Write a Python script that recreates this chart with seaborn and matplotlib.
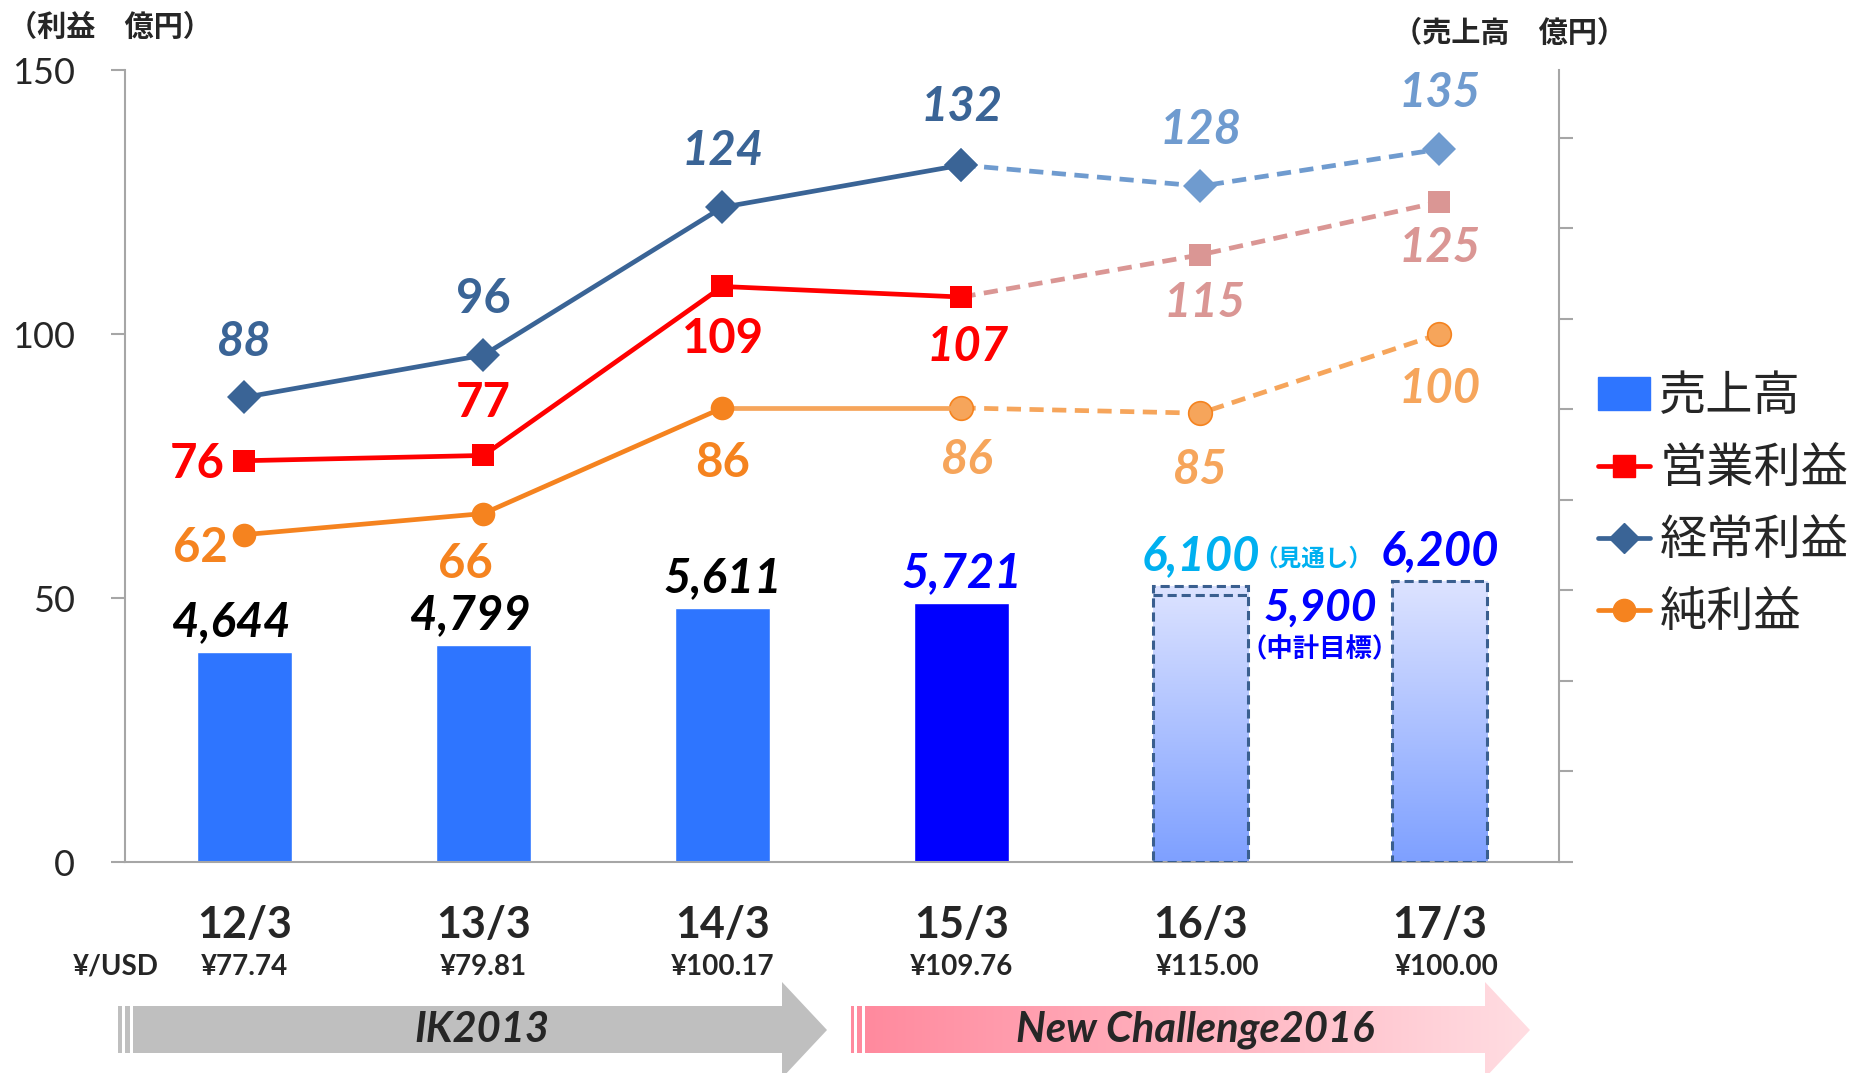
"""
Sales and profit trend chart (actuals + forecast), bars for sales, lines for profits
"""

import numpy as np
import matplotlib
matplotlib.use('Agg')
import matplotlib.pyplot as plt
import seaborn as sns
from matplotlib.colors import LinearSegmentedColormap
from matplotlib.lines import Line2D
from matplotlib.patches import Patch, Polygon, Rectangle

# ---- data ----
categories = ['12/3', '13/3', '14/3', '15/3', '16/3', '17/3']
fx_rates = ['¥77.74', '¥79.81', '¥100.17', '¥109.76', '¥115.00', '¥100.00']
sales = [4644, 4799, 5611, 5721, 6100, 6200]
sales_target = 5900
ordinary_profit = [88, 96, 124, 132, 128, 135]
operating_profit = [76, 77, 109, 107, 115, 125]
net_profit = [62, 66, 86, 86, 85, 100]
phases = ['IK2013', 'New Challenge2016']

# ---- style ----
sns.set_style('white')
NUM = ['Lato', 'Noto Sans CJK JP', 'DejaVu Sans']
JP = ['Noto Sans CJK JP', 'DejaVu Sans']
plt.rcParams['font.family'] = NUM

BAR, BAR15 = '#2E75FF', '#0000FF'
ORD, ORD_L = '#3A6496', '#6F9BCF'
OPE, OPE_L = '#FF0000', '#DA9694'
NET, NET_L = '#F5831F', '#F6A55B'
GRID = '#A6A6A6'
EDGE = '#3A5F8F'

W, H = 1852, 1073
fig = plt.figure(figsize=(W / 100, H / 100), dpi=100)
ax = fig.add_axes([125 / W, 1 - 862 / H, (1559 - 125) / W, (862 - 70) / H])

# ---- bars (sales, right axis 0-17500) ----
bar_colors = [BAR, BAR, BAR, BAR15, 'none', 'none']
sns.barplot(x=categories, y=sales, hue=categories, palette=bar_colors,
            legend=False, width=0.4, ax=ax, saturation=1)

grad = LinearSegmentedColormap.from_list('g', ['#7EA0FF', '#DDE3FF'])
for p in ax.patches[4:6]:
    x0, y0, w, h = p.get_x(), p.get_y(), p.get_width(), p.get_height()
    p.set_facecolor('none')
    p.set_edgecolor(EDGE)
    p.set_linewidth(2.2)
    p.set_linestyle((0, (3, 1.6)))
    p.set_zorder(3)
    im = ax.imshow(np.linspace(0, 1, 256).reshape(-1, 1), cmap=grad, origin='lower',
                   extent=[x0, x0 + w, y0, y0 + h], aspect='auto', zorder=2)
    im.set_clip_path(p)
p16 = ax.patches[4]
ax.plot([p16.get_x(), p16.get_x() + p16.get_width()], [sales_target, sales_target],
        color=EDGE, lw=2.2, ls=(0, (3, 1.6)), zorder=3)
ax.set_xlim(-0.5, 5.5)
ax.set_ylim(0, 17500)

bar_label_colors = ['black', 'black', 'black', BAR15, '#00B0F0', BAR15]
bar_label_dx = [-13, -13, 0, 0, 0, 0]
for i, v in enumerate(sales):
    ax.annotate(f'{v:,}', (i, v), xytext=(bar_label_dx[i], 8), textcoords='offset pixels',
                ha='center', va='bottom', fontsize=34, fontweight='bold', fontstyle='italic',
                color=bar_label_colors[i], zorder=6)
ax.annotate('（見通し）', (4, sales[4]), xytext=(113, 27), textcoords='offset pixels',
            ha='center', va='center', fontsize=17, fontweight='bold', color='#00B0F0',
            family=JP, zorder=6)
ax.annotate(f'{sales_target:,}', (4.5, sales_target), xytext=(0, -13), textcoords='offset pixels',
            ha='center', va='center', fontsize=32, fontweight='bold', fontstyle='italic',
            color=BAR15, zorder=6)
ax.annotate('（中計目標）', (4.5, sales_target), xytext=(0, -55), textcoords='offset pixels',
            ha='center', va='center', fontsize=19, fontweight='bold', color=BAR15,
            family=JP, zorder=6)

# ---- lines (profits, left axis 0-150) ----
axl = ax.twinx()
ax.yaxis.tick_right()
axl.yaxis.tick_left()
axl.set_ylim(0, 150)
xs = list(range(len(categories)))
lw = 3.4

sns.lineplot(x=xs[3:], y=ordinary_profit[3:], ax=axl, color=ORD_L, lw=lw, ls=(0, (3, 1.8)),
             marker='D', markersize=17, markeredgewidth=0, markerfacecolor=ORD_L)
sns.lineplot(x=xs[:4], y=ordinary_profit[:4], ax=axl, color=ORD, lw=lw,
             marker='D', markersize=17, markeredgewidth=0)
sns.lineplot(x=xs[3:], y=operating_profit[3:], ax=axl, color=OPE_L, lw=lw, ls=(0, (3, 1.8)),
             marker='s', markersize=16, markeredgewidth=0, markerfacecolor=OPE_L)
sns.lineplot(x=xs[:4], y=operating_profit[:4], ax=axl, color=OPE, lw=lw,
             marker='s', markersize=16, markeredgewidth=0)
sns.lineplot(x=xs[3:], y=net_profit[3:], ax=axl, color=NET_L, lw=lw, ls=(0, (3, 1.8)),
             marker='o', markersize=17, markeredgewidth=1.2, markeredgecolor=NET,
             markerfacecolor=NET_L)
sns.lineplot(x=xs[2:4], y=net_profit[2:4], ax=axl, color=NET_L, lw=lw)
sns.lineplot(x=xs[:3], y=net_profit[:3], ax=axl, color=NET, lw=lw,
             marker='o', markersize=17, markeredgewidth=0)

ord_colors = [ORD] * 4 + [ORD_L] * 2
ope_colors = [OPE] * 4 + [OPE_L] * 2
net_colors = [NET] * 3 + [NET_L] * 3
ord_italic = [True, False, True, True, True, True]
ope_italic = [False, False, False, True, True, True]
net_italic = [False, False, False, True, True, True]
ord_off = [(0, 55), (0, 56), (0, 56), (0, 58), (0, 56), (0, 56)]
ope_off = [(-47, -3), (0, 52), (0, -53), (6, -50), (4, -48), (0, -46)]
net_off = [(-44, -13), (-18, -50), (0, -55), (6, -52), (0, -57), (0, -55)]

for vals, cols, ital, offs in [(ordinary_profit, ord_colors, ord_italic, ord_off),
                               (operating_profit, ope_colors, ope_italic, ope_off),
                               (net_profit, net_colors, net_italic, net_off)]:
    for i, v in enumerate(vals):
        axl.annotate(str(v), (i, v), xytext=offs[i], textcoords='offset pixels',
                     ha='center', va='center', fontsize=34, fontweight='bold',
                     fontstyle='italic' if ital[i] else 'normal', color=cols[i])

# ---- axes cosmetics ----
ax.set_xlabel('')
ax.set_ylabel('')
axl.set_ylabel('')
ax.set_yticks(range(0, 17501, 2000))
ax.set_yticklabels([])
axl.set_yticks([0, 50, 100, 150])
axl.tick_params(axis='y', labelsize=26, length=10, width=1.5, color=GRID, pad=26, direction='out')
ax.tick_params(axis='y', length=10, width=1.5, color=GRID, direction='out')
ax.set_xticks([x - 0.5 for x in range(len(categories) + 1)])
ax.set_xticklabels([])
ax.tick_params(axis='x', length=10, width=1.5, color=GRID, direction='out')
for a in (ax, axl):
    for s in a.spines.values():
        s.set_visible(False)
for sp in (axl.spines['left'], ax.spines['right'], ax.spines['bottom']):
    sp.set_visible(True)
    sp.set_color(GRID)
    sp.set_linewidth(1.5)

# category + fx labels
for i, (c, r) in enumerate(zip(categories, fx_rates)):
    ax.text(i, -63 / 792, c, transform=ax.get_xaxis_transform(), ha='center', va='center',
            fontsize=31, fontweight='bold')
    ax.text(i + (0.03 if i >= 4 else 0), -105 / 792, r, transform=ax.get_xaxis_transform(),
            ha='center', va='center', fontsize=20, fontweight='bold')
fig.text(116 / W, 1 - 967 / H, '¥/USD', ha='center', va='center', fontsize=20, fontweight='bold')

fig.text(8 / W, 1 - 27 / H, '（利益　億円）', ha='left', va='center', fontsize=21,
         fontweight='bold', family=JP)
fig.text(1393 / W, 1 - 33 / H, '（売上高　億円）', ha='left', va='center', fontsize=21,
         fontweight='bold', family=JP)

# legend
handles = [Patch(color=BAR),
           Line2D([], [], color=OPE, lw=lw, marker='s', markersize=16),
           Line2D([], [], color=ORD, lw=lw, marker='D', markersize=15),
           Line2D([], [], color=NET, lw=lw, marker='o', markersize=16)]
fig.legend(handles, ['売上高', '営業利益', '経常利益', '純利益'], loc='center left',
           bbox_to_anchor=(1598 / W, 1 - 505 / H), frameon=False, borderpad=0,
           borderaxespad=0, prop={'family': JP, 'size': 34}, handlelength=1.1,
           handletextpad=0.2, labelspacing=0.5)

# ---- phase arrows (pixel-space overlay) ----
ov = fig.add_axes([0, 0, 1, 1], zorder=-1)
ov.set_axis_off()
ov.add_patch(Rectangle((118, 1006), 4, 47, color='#BFBFBF', lw=0))
ov.add_patch(Rectangle((125, 1006), 5, 47, color='#BFBFBF', lw=0))
ov.add_patch(Polygon([(133, 1006), (782, 1006), (782, 982), (827, 1030),
                      (782, 1078), (782, 1053), (133, 1053)], closed=True,
                     color='#BFBFBF', lw=0))
ov.add_patch(Rectangle((851, 1006), 3, 47, color='#FF8A9E', lw=0))
ov.add_patch(Rectangle((857, 1006), 5, 47, color='#FF8A9E', lw=0))
arrow2 = Polygon([(865, 1006), (1485, 1006), (1485, 982), (1530, 1030),
                  (1485, 1078), (1485, 1053), (865, 1053)], closed=True,
                 facecolor='none', lw=0)
ov.add_patch(arrow2)
pink = LinearSegmentedColormap.from_list('p', ['#FF8A9E', '#FFDDE2'])
im2 = ov.imshow(np.linspace(0, 1, 256).reshape(1, -1), cmap=pink, aspect='auto',
                extent=[865, 1530, 1078, 982])
im2.set_clip_path(arrow2)
ov.set_xlim(0, W)
ov.set_ylim(H, 0)
ov.text(482, 1030, phases[0], ha='center', va='center', fontsize=30,
        fontweight='bold', fontstyle='italic')
ov.text(1195, 1030, phases[1], ha='center', va='center', fontsize=30,
        fontweight='bold', fontstyle='italic')

plt.savefig('out.png', dpi=100)
